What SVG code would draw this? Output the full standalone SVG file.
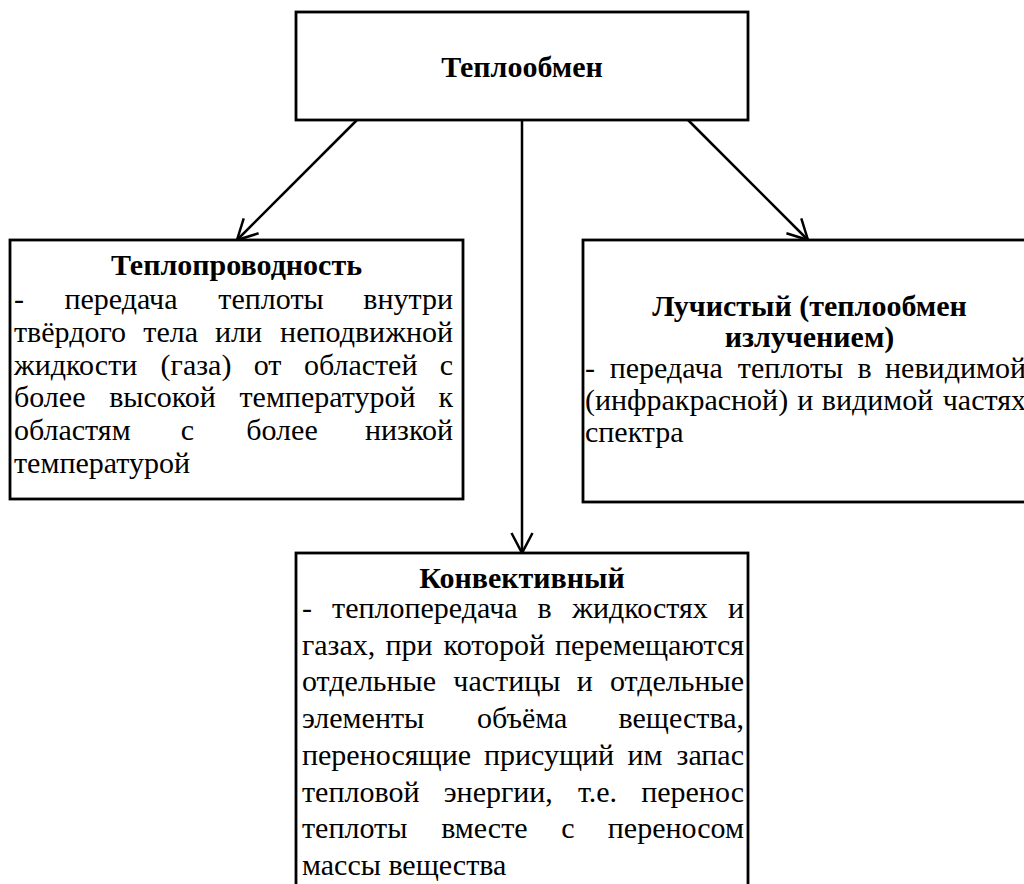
<svg xmlns="http://www.w3.org/2000/svg" width="1024" height="884" viewBox="0 0 1024 884">
<style>
.box{fill:#fff;stroke:#000;stroke-width:2.8}
.t{font-family:"Liberation Serif","Times New Roman",serif;font-size:30px;fill:#000}
.b{font-weight:bold}
.m{text-anchor:middle}
.e{text-anchor:end}
.c{stroke:#000;stroke-width:2.5;fill:none}
</style>
<defs>
<marker id="arr" viewBox="-23 -13 26 26" refX="0" refY="0" markerWidth="26" markerHeight="26" markerUnits="userSpaceOnUse" orient="auto">
<path d="M-20,-10.5 L0,0 L-20,10.5" fill="none" stroke="#000" stroke-width="2.5"/>
</marker>
</defs>
<rect width="1024" height="884" fill="#fff"/>
<g id="connectors">
<line class="c" x1="357" y1="120" x2="237" y2="240" marker-end="url(#arr)"/>
<line class="c" x1="522" y1="120" x2="522" y2="553" marker-end="url(#arr)"/>
<line class="c" x1="688" y1="120" x2="808" y2="240" marker-end="url(#arr)"/>
</g>
<g id="node-top">
<rect class="box" x="296" y="12" width="452" height="108"/>
<text class="t b m" x="522" y="77">Теплообмен</text>
</g>
<g id="node-left">
<rect class="box" x="10" y="240" width="453" height="259"/>
<text class="t b m" x="236.5" y="275">Теплопроводность</text>
<text class="t" y="309"><tspan x="14">-</tspan><tspan class="m" x="121">передача</tspan><tspan class="m" x="271">теплоты</tspan><tspan class="e" x="453">внутри</tspan></text>
<text class="t" y="341.8"><tspan x="14">твёрдого</tspan><tspan class="m" x="170.7">тела</tspan><tspan class="m" x="238.5">или</tspan><tspan class="e" x="453">неподвижной</tspan></text>
<text class="t" y="374.6"><tspan x="14">жидкости</tspan><tspan class="m" x="196">(газа)</tspan><tspan class="m" x="267.6">от</tspan><tspan class="m" x="360.7">областей</tspan><tspan class="e" x="453">с</tspan></text>
<text class="t" y="407.4"><tspan x="14">более</tspan><tspan class="m" x="162.5">высокой</tspan><tspan class="m" x="327.5">температурой</tspan><tspan class="e" x="453">к</tspan></text>
<text class="t" y="440.2"><tspan x="14">областям</tspan><tspan class="m" x="187.3">с</tspan><tspan class="m" x="282">более</tspan><tspan class="e" x="453">низкой</tspan></text>
<text class="t" x="14" y="473">температурой</text>
</g>
<g id="node-right">
<rect class="box" x="583" y="240" width="453" height="262"/>
<text class="t b m" x="809.5" y="316">Лучистый (теплообмен</text>
<text class="t b m" x="809.5" y="347">излучением)</text>
<text class="t" y="377.5"><tspan x="585">-</tspan><tspan class="m" x="666.3">передача</tspan><tspan class="m" x="790.5">теплоты</tspan><tspan class="m" x="864.5">в</tspan><tspan class="e" x="1026">невидимой</tspan></text>
<text class="t" y="409.5"><tspan x="585">(инфракрасной)</tspan><tspan class="m" x="805.2">и</tspan><tspan class="m" x="877.6">видимой</tspan><tspan class="e" x="1026">частях</tspan></text>
<text class="t" x="585" y="442">спектра</text>
</g>
<g id="node-bottom">
<rect class="box" x="296" y="553" width="452" height="350"/>
<text class="t b m" x="522" y="588">Конвективный</text>
<text class="t" y="618"><tspan x="302">-</tspan><tspan class="m" x="424.8">теплопередача</tspan><tspan class="m" x="544.7">в</tspan><tspan class="m" x="640">жидкостях</tspan><tspan class="e" x="744">и</tspan></text>
<text class="t" y="654.7"><tspan x="302">газах,</tspan><tspan class="m" x="409.1">при</tspan><tspan class="m" x="494.3">которой</tspan><tspan class="e" x="744">перемещаются</tspan></text>
<text class="t" y="691.4"><tspan x="302">отдельные</tspan><tspan class="m" x="506.9">частицы</tspan><tspan class="m" x="584.7">и</tspan><tspan class="e" x="744">отдельные</tspan></text>
<text class="t" y="728.1"><tspan x="302">элементы</tspan><tspan class="m" x="522.2">объёма</tspan><tspan class="e" x="744">вещества,</tspan></text>
<text class="t" y="764.8"><tspan x="302">переносящие</tspan><tspan class="m" x="549">присущий</tspan><tspan class="m" x="644.9">им</tspan><tspan class="e" x="744">запас</tspan></text>
<text class="t" y="801.5"><tspan x="302">тепловой</tspan><tspan class="m" x="498.3">энергии,</tspan><tspan class="m" x="597.5">т.е.</tspan><tspan class="e" x="744">перенос</tspan></text>
<text class="t" y="838.2"><tspan x="302">теплоты</tspan><tspan class="m" x="484.4">вместе</tspan><tspan class="m" x="567.8">с</tspan><tspan class="e" x="744">переносом</tspan></text>
<text class="t" x="302" y="875">массы вещества</text>
</g>
</svg>
